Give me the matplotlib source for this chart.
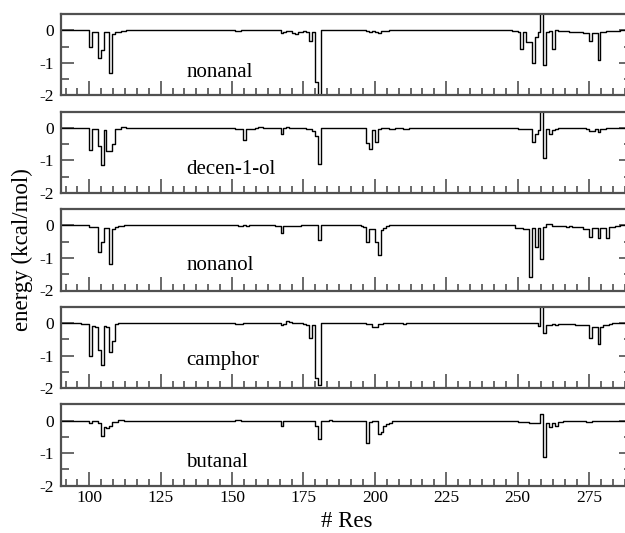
import numpy as np
import matplotlib
matplotlib.use('Agg')
import matplotlib.pyplot as plt
from matplotlib.ticker import MultipleLocator, FixedLocator

plt.rcParams['font.family'] = ['Liberation Serif', 'DejaVu Serif']
plt.rcParams['axes.unicode_minus'] = False

# ---------------- data (per-residue interaction energy, kcal/mol) ----------------
ligands = ['nonanal', 'decen-1-ol', 'nonanol', 'camphor', 'butanal']
res_first, res_last = 85, 295

nonanal_res = [100, 101, 102, 103, 104, 105, 106, 107, 108, 109, 110, 111, 112,
               151, 152, 167, 168, 169, 170, 171, 172, 173, 174, 175, 176, 177, 178, 179, 180,
               197, 198, 199, 200, 201, 202, 203, 204,
               248, 249, 250, 251, 252, 253, 254, 255, 256, 257, 258, 259, 260, 261, 262,
               263, 264, 265, 266, 267, 268, 269, 270, 271, 272, 273, 274, 275, 276, 277,
               278, 279, 280, 281, 282, 283, 284, 285]
nonanal_e = [-0.5, -0.05, -0.05, -0.85, -0.62, -0.06, -0.06, -1.3, -0.12, -0.05, -0.04, -0.03, -0.02,
             -0.02, -0.01, -0.07, -0.04, -0.03, -0.03, -0.07, -0.1, -0.05, -0.04, -0.03, -0.05, -0.32, -0.05, -1.6, -1.98,
             -0.02, -0.04, -0.03, -0.05, -0.08, -0.03, -0.02, -0.02,
             -0.02, -0.03, -0.05, -0.57, -0.05, -0.35, -0.35, -1.0, -0.22, -0.05, 0.8, -1.07, -0.05, -0.02, -0.57,
             0.02, -0.02, -0.03, -0.03, -0.03, -0.05, -0.04, -0.05, -0.06, -0.06, -0.08, -0.08, -0.33, -0.09, -0.09,
             -0.91, -0.06, -0.04, -0.03, -0.02, -0.02, -0.02, -0.02]

decenol_res = [100, 101, 102, 103, 104, 105, 106, 107, 108, 109, 110, 111, 112,
               151, 152, 153, 154, 155, 156, 157, 159, 160,
               167, 168, 169, 170, 176, 177, 178, 179, 180,
               197, 198, 199, 200, 201, 205, 206, 210, 211,
               250, 251, 252, 253, 254, 255, 256, 257, 258, 259, 260, 261, 262, 263,
               274, 275, 276, 277, 278, 279, 280]
decenol_e = [-0.67, -0.05, -0.05, -0.57, -1.15, -0.06, -0.72, -0.72, -0.5, -0.03, -0.03, 0.04, 0.03,
             -0.02, -0.02, -0.02, -0.36, -0.04, -0.03, -0.02, 0.02, 0.02,
             -0.2, 0.01, 0.02, 0.01, -0.02, -0.05, -0.1, -0.25, -1.1,
             -0.46, -0.66, -0.08, -0.43, -0.05, -0.03, -0.03, -0.03, -0.03,
             -0.02, -0.03, -0.03, -0.03, -0.05, -0.45, -0.18, -0.08, 0.8, -0.94, -0.02, -0.18, -0.08, -0.02,
             -0.02, -0.1, -0.1, -0.04, -0.13, -0.03, -0.02]

nonanol_res = [100, 101, 102, 103, 104, 105, 106, 107, 108, 109, 110, 111,
               152, 153, 155, 165, 166, 167, 168, 169, 170, 171, 172, 173, 180,
               195, 196, 197, 198, 199, 200, 201, 202, 203, 204,
               249, 250, 251, 252, 253, 254, 255, 256, 257, 258, 259, 260, 261,
               262, 263, 264, 265, 266, 267, 268, 269, 270, 271, 272, 273, 274, 275, 276, 277,
               278, 279, 280, 281, 282, 283, 284, 285]
nonanol_e = [-0.04, -0.04, -0.05, -0.82, -0.52, -0.07, -0.07, -1.2, -0.12, -0.04, -0.03, -0.02,
             -0.02, -0.03, -0.02, -0.02, -0.02, -0.24, -0.03, -0.02, -0.02, -0.03, -0.02, -0.03, -0.45,
             -0.02, -0.04, -0.5, -0.12, -0.12, -0.5, -0.92, -0.15, -0.07, -0.03,
             -0.07, -0.07, -0.07, -0.12, -0.12, -1.6, -0.07, -0.65, -0.07, -1.03, -0.05, 0.06, 0.03,
             -0.02, -0.03, -0.02, -0.03, -0.02, -0.04, -0.03, -0.05, -0.04, -0.06, -0.06, -0.1, -0.1, -0.36, -0.07, -0.07,
             -0.4, -0.07, -0.07, -0.38, -0.05, -0.04, -0.03, -0.02]

camphor_res = [97, 98, 99, 100, 101, 102, 103, 104, 105, 106, 107, 108, 109, 110,
               151, 152, 153, 167, 168, 169, 170, 175, 176, 177, 178, 179, 180,
               197, 198, 199, 200, 201, 202, 210,
               257, 258, 259, 260, 261, 262, 263, 264, 265, 266, 267, 268, 269, 270, 271, 272,
               273, 274, 275, 276, 277, 278, 279, 280, 281, 282]
camphor_e = [-0.02, -0.03, -0.03, -1.0, -0.1, -0.12, -0.82, -1.28, -0.1, -0.12, -0.9, -0.55, -0.02, -0.01,
             -0.02, -0.03, -0.02, -0.05, -0.04, 0.05, 0.02, -0.03, -0.05, -0.46, -0.05, -1.7, -1.92,
             -0.02, -0.04, -0.13, -0.13, -0.04, -0.03, -0.02,
             -0.1, 0.8, -0.3, -0.05, -0.05, -0.04, -0.05, -0.03, -0.02, -0.02, -0.03, -0.02, -0.03, -0.05, -0.07, -0.07,
             -0.07, -0.07, -0.47, -0.12, -0.12, -0.65, -0.12, -0.05, -0.05, -0.02]

butanal_res = [100, 101, 102, 103, 104, 105, 106, 107, 108, 109, 110, 111,
               151, 152, 167, 179, 180, 184,
               197, 198, 199, 200, 201, 202, 203, 204, 205,
               250, 251, 252, 253, 254, 255, 256, 257, 258, 259, 260, 261, 262, 263, 264, 265,
               266, 274, 275]
butanal_e = [-0.07, -0.02, -0.02, -0.06, -0.48, -0.18, -0.22, -0.15, -0.05, -0.03, 0.02, 0.02,
             0.03, 0.02, -0.15, -0.15, -0.55, 0.03,
             -0.69, -0.03, -0.02, -0.02, -0.42, -0.35, -0.15, -0.1, -0.07,
             -0.03, -0.03, -0.03, -0.03, -0.07, -0.07, -0.07, -0.07, 0.2, -1.13, -0.07, -0.2, -0.07, -0.15, -0.03, -0.03,
             -0.02, -0.05, -0.05]

label_y = [-1.44, -1.41, -1.36, -1.28, -1.44]
label_x = 134

x_ticks = [100, 125, 150, 175, 200, 225, 250, 275]
y_ticks = [-2, -1, 0]
xlim = (90, 290)
ylim = (-2, 0.5)

series = [(nonanal_res, nonanal_e), (decenol_res, decenol_e), (nonanol_res, nonanol_e),
          (camphor_res, camphor_e), (butanal_res, butanal_e)]

# ---------------- figure ----------------
W, H = 625, 533
fig = plt.figure(figsize=(W / 100, H / 100), dpi=100)
spine_col = '#505050'

left_px, right_px = 60.75, 631.8
top0, step_px, h_px = 14.0, 97.6, 81.3

residues = np.arange(res_first, res_last + 1)
axes = []
for i, (name, (rr, ee)) in enumerate(zip(ligands, series)):
    top = top0 + i * step_px
    ax = fig.add_axes([left_px / W, 1 - (top + h_px) / H,
                       (right_px - left_px) / W, h_px / H])
    axes.append(ax)
    energy = np.zeros(len(residues))
    energy[np.array(rr) - res_first] = ee
    ax.step(np.append(residues, residues[-1] + 1), np.append(energy, energy[-1]),
            where='post', color='black', lw=1.0)
    ax.set_xlim(*xlim)
    ax.set_ylim(*ylim)
    ax.xaxis.set_major_locator(FixedLocator(x_ticks))
    ax.xaxis.set_minor_locator(MultipleLocator(25 / 6))
    ax.yaxis.set_major_locator(FixedLocator(y_ticks))
    ax.yaxis.set_minor_locator(MultipleLocator(0.5))
    for s in ax.spines.values():
        s.set_color(spine_col)
        s.set_linewidth(1.6)
    ax.tick_params(axis='x', which='both', direction='in', top=False, bottom=True,
                   color=spine_col, width=1.2, labelsize=12.5, pad=3)
    ax.tick_params(axis='x', which='major', length=10)
    ax.tick_params(axis='x', which='minor', length=5)
    ax.tick_params(axis='y', which='both', direction='in', left=True, right=True,
                   color=spine_col, width=1.2, labelsize=12.5, pad=5)
    ax.tick_params(axis='y', which='major', length=9.5)
    ax.tick_params(axis='y', which='minor', length=5.5)
    if i < len(ligands) - 1:
        ax.tick_params(axis='x', labelbottom=False)
    ax.text(label_x, label_y[i], name, fontsize=15, ha='left', va='baseline')

fig.text(0.036, 0.531, 'energy (kcal/mol)', rotation=90, ha='center', va='center', fontsize=16.5)
fig.text((left_px + right_px) / 2 / W, 1 / H, '# Res', ha='center', va='bottom', fontsize=16.5)

fig.savefig('out.png', dpi=100)
